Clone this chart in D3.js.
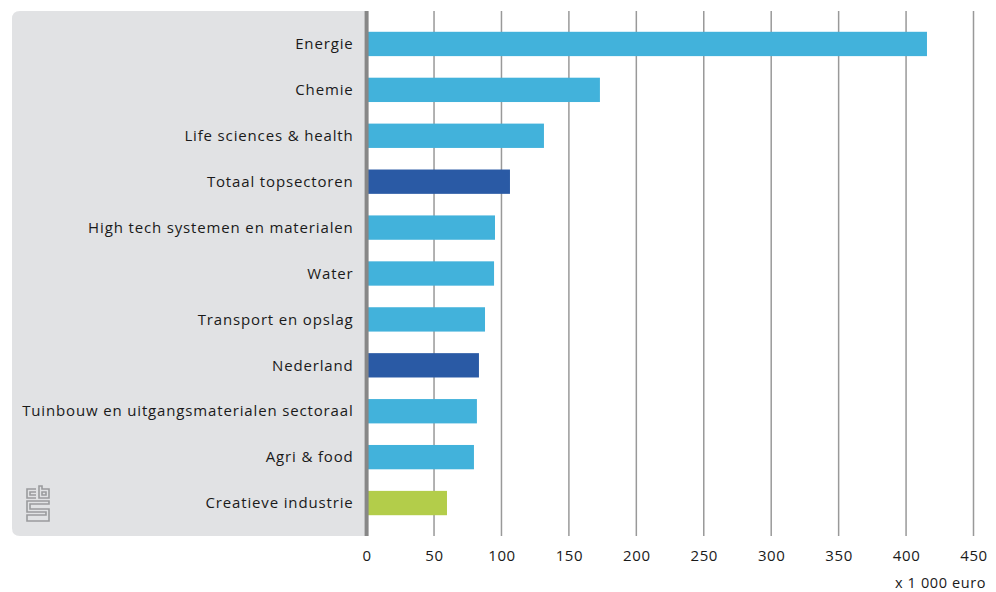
<!DOCTYPE html>
<html>
<head>
<meta charset="utf-8">
<script src="https://cdn.jsdelivr.net/npm/d3@7/dist/d3.min.js"></script>
<style>
  html, body { margin: 0; padding: 0; background: #ffffff; }
  svg { display: block; }
  text { font-family: "Open Sans", "DejaVu Sans", sans-serif; fill: #1a1a1a; }
</style>
</head>
<body>
<svg id="chart" width="996" height="592"></svg>
<script>
// Sectors, top to bottom
const categories = [
  "Energie",
  "Chemie",
  "Life sciences & health",
  "Totaal topsectoren",
  "High tech systemen en materialen",
  "Water",
  "Transport en opslag",
  "Nederland",
  "Tuinbouw en uitgangsmaterialen sectoraal",
  "Agri & food",
  "Creatieve industrie"
];
// Values in x 1 000 euro
const values = [415.5, 173, 131.5, 106.3, 95.2, 94.5, 87.8, 83.3, 81.8, 79.6, 59.6];
// Bar group: sector, total, national or creative
const groups = ["sector", "sector", "sector", "total", "sector", "sector", "sector", "total", "sector", "sector", "creative"];
const xTicks = [0, 50, 100, 150, 200, 250, 300, 350, 400, 450];
const unitLabel = "x 1 000 euro";

const colors = { sector: "#42b2db", total: "#2a5aa5", creative: "#b3cd4a" };

const svg = d3.select("#chart");
const plotTop = 11, plotBottom = 536;
const x0 = 366.6, x1 = 973.5;

const x = d3.scaleLinear().domain([0, 450]).range([x0, x1]);
const y = d3.scaleBand().domain(categories).range([21, 526]).paddingInner(0.47).paddingOuter(0.235);

// Grey label panel with rounded left corners
const px = 12, r = 8;
svg.append("path")
  .attr("d", `M${px + r},${plotTop} H${x0} V${plotBottom} H${px + r} Q${px},${plotBottom} ${px},${plotBottom - r} V${plotTop + r} Q${px},${plotTop} ${px + r},${plotTop} Z`)
  .attr("fill", "#e1e2e4");

// Vertical gridlines
svg.append("g").selectAll("line")
  .data(xTicks.filter(d => d > 0))
  .join("line")
  .attr("x1", d => x(d)).attr("x2", d => x(d))
  .attr("y1", plotTop).attr("y2", plotBottom)
  .attr("stroke", "#999999").attr("stroke-width", 1.5);

// Bars
svg.append("g").selectAll("rect")
  .data(categories)
  .join("rect")
  .attr("x", x(0))
  .attr("y", d => y(d))
  .attr("width", (d, i) => x(values[i]) - x(0))
  .attr("height", y.bandwidth())
  .attr("fill", (d, i) => colors[groups[i]]);

// Zero axis line
svg.append("line")
  .attr("x1", x(0)).attr("x2", x(0))
  .attr("y1", plotTop).attr("y2", plotBottom)
  .attr("stroke", "#878787").attr("stroke-width", 4);

// Category labels
svg.append("g").selectAll("text")
  .data(categories)
  .join("text")
  .attr("x", x0 - 13)
  .attr("y", d => y(d) + y.bandwidth() / 2)
  .attr("dy", "0.35em")
  .attr("text-anchor", "end")
  .attr("font-size", 15)
  .attr("letter-spacing", 0.85)
  .text(d => d);

// X axis tick labels
const xAxis = d3.axisBottom(x).tickValues(xTicks).tickSize(0).tickPadding(0).tickFormat(d3.format("d"));
const gx = svg.append("g").attr("transform", `translate(0,${plotBottom})`).call(xAxis);
gx.select(".domain").remove();
gx.selectAll("text")
  .attr("y", 25)
  .attr("dy", 0)
  .attr("font-size", 15)
  .attr("letter-spacing", 0.6)
  .style("font-family", "'Open Sans', 'DejaVu Sans', sans-serif")
  .attr("fill", "#1a1a1a");

// Unit label
svg.append("text")
  .attr("x", 986).attr("y", 588)
  .attr("text-anchor", "end")
  .attr("font-size", 14.5)
  .attr("letter-spacing", 0.6)
  .text(unitLabel);

// Logo mark in the panel corner
const logo = svg.append("g")
  .attr("transform", "translate(26,486)")
  .attr("fill", "none")
  .attr("stroke", "#9a9b9d")
  .attr("stroke-width", 1.6);
// c
logo.append("path").attr("d", "M10,3 H1 V12 H10");
logo.append("path").attr("d", "M10,6 H4 V9 H10");
// b
logo.append("path").attr("d", "M13,0 V12 H23 V3 H16 V0 Z");
logo.append("path").attr("d", "M16,6 H20 V9 H16 Z");
// s
logo.append("path").attr("d", "M23,15 H1 V26 H20 V29 H1 V35 H23 V23 H4 V18 H23 Z");
</script>
</body>
</html>
